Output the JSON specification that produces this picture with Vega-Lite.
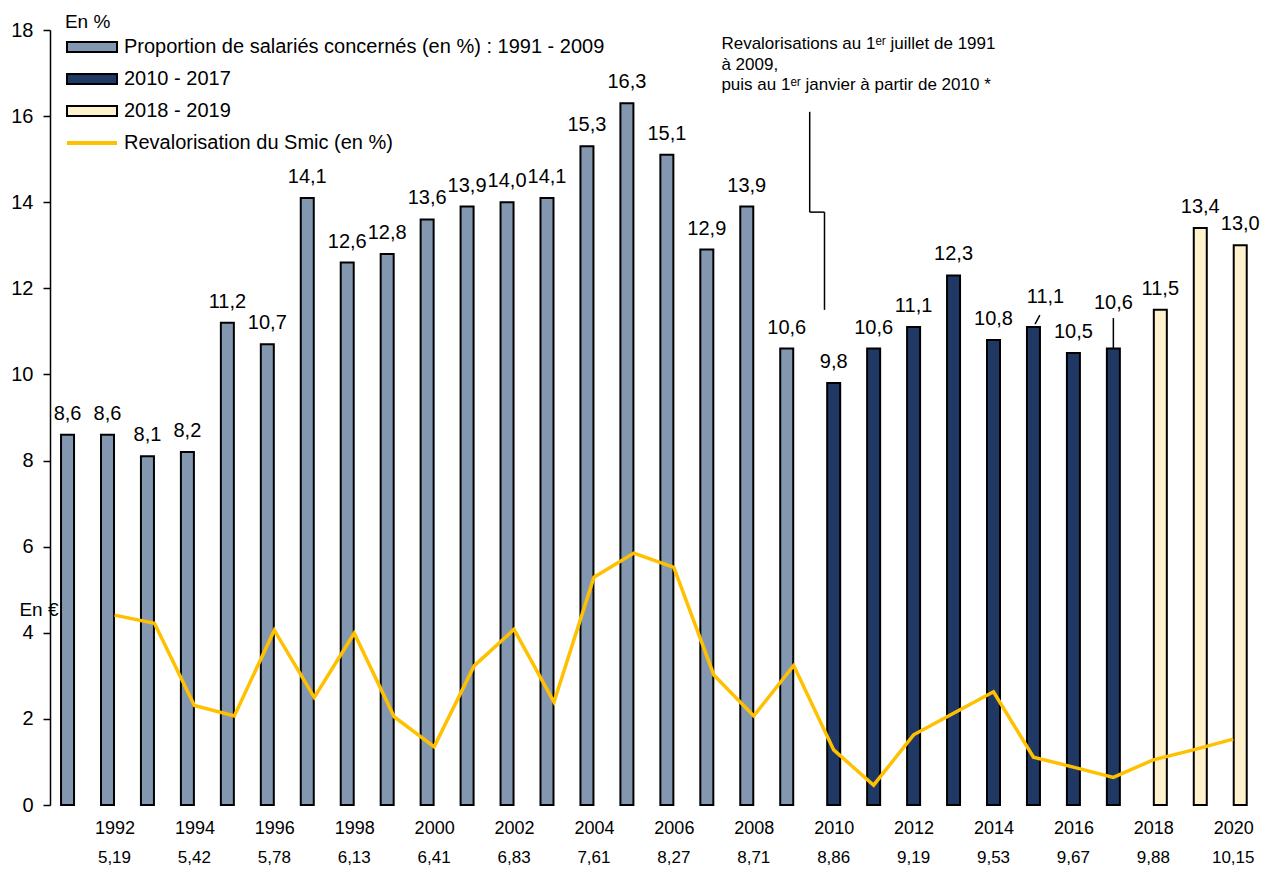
{
  "$schema": "https://vega.github.io/schema/vega-lite/v6.json",
  "width": 1215,
  "height": 775,
  "autosize": {"type": "none"},
  "padding": {"left": 50, "top": 30, "right": 4, "bottom": 65},
  "config": {
    "font": "Liberation Sans",
    "view": {"stroke": null},
    "locale": {"number": {"decimal": ",", "thousands": " ", "grouping": [3], "currency": ["", " €"]}},
    "axisX": {"domain": false, "ticks": false, "grid": false, "labelFontSize": 18, "labelPadding": 14, "labelColor": "black", "labelFont": "Liberation Sans", "title": null},
    "axisY": {"grid": false, "domainColor": "black", "domainWidth": 1.5, "tickColor": "black", "tickWidth": 1.5, "tickSize": 7, "labelFontSize": 20, "labelPadding": 10, "labelColor": "black", "labelFont": "Liberation Sans", "title": null}
  },
  "datasets": {
    "main": [
      {"year": 1991, "pct": 8.6, "smic": null, "period": "Proportion de salariés concernés (en %) : 1991 - 2009"},
      {"year": 1992, "pct": 8.6, "smic": 4.41, "period": "Proportion de salariés concernés (en %) : 1991 - 2009"},
      {"year": 1993, "pct": 8.1, "smic": 4.22, "period": "Proportion de salariés concernés (en %) : 1991 - 2009"},
      {"year": 1994, "pct": 8.2, "smic": 2.31, "period": "Proportion de salariés concernés (en %) : 1991 - 2009"},
      {"year": 1995, "pct": 11.2, "smic": 2.07, "period": "Proportion de salariés concernés (en %) : 1991 - 2009"},
      {"year": 1996, "pct": 10.7, "smic": 4.06, "period": "Proportion de salariés concernés (en %) : 1991 - 2009"},
      {"year": 1997, "pct": 14.1, "smic": 2.50, "period": "Proportion de salariés concernés (en %) : 1991 - 2009"},
      {"year": 1998, "pct": 12.6, "smic": 3.99, "period": "Proportion de salariés concernés (en %) : 1991 - 2009"},
      {"year": 1999, "pct": 12.8, "smic": 2.05, "period": "Proportion de salariés concernés (en %) : 1991 - 2009"},
      {"year": 2000, "pct": 13.6, "smic": 1.35, "period": "Proportion de salariés concernés (en %) : 1991 - 2009"},
      {"year": 2001, "pct": 13.9, "smic": 3.23, "period": "Proportion de salariés concernés (en %) : 1991 - 2009"},
      {"year": 2002, "pct": 14.0, "smic": 4.08, "period": "Proportion de salariés concernés (en %) : 1991 - 2009"},
      {"year": 2003, "pct": 14.1, "smic": 2.39, "period": "Proportion de salariés concernés (en %) : 1991 - 2009"},
      {"year": 2004, "pct": 15.3, "smic": 5.29, "period": "Proportion de salariés concernés (en %) : 1991 - 2009"},
      {"year": 2005, "pct": 16.3, "smic": 5.85, "period": "Proportion de salariés concernés (en %) : 1991 - 2009"},
      {"year": 2006, "pct": 15.1, "smic": 5.52, "period": "Proportion de salariés concernés (en %) : 1991 - 2009"},
      {"year": 2007, "pct": 12.9, "smic": 3.02, "period": "Proportion de salariés concernés (en %) : 1991 - 2009"},
      {"year": 2008, "pct": 13.9, "smic": 2.07, "period": "Proportion de salariés concernés (en %) : 1991 - 2009"},
      {"year": 2009, "pct": 10.6, "smic": 3.24, "period": "Proportion de salariés concernés (en %) : 1991 - 2009"},
      {"year": 2010, "pct": 9.8, "smic": 1.28, "period": "2010 - 2017"},
      {"year": 2011, "pct": 10.6, "smic": 0.46, "period": "2010 - 2017"},
      {"year": 2012, "pct": 11.1, "smic": 1.63, "period": "2010 - 2017"},
      {"year": 2013, "pct": 12.3, "smic": 2.13, "period": "2010 - 2017"},
      {"year": 2014, "pct": 10.8, "smic": 2.63, "period": "2010 - 2017"},
      {"year": 2015, "pct": 11.1, "smic": 1.11, "period": "2010 - 2017"},
      {"year": 2016, "pct": 10.5, "smic": 0.88, "period": "2010 - 2017"},
      {"year": 2017, "pct": 10.6, "smic": 0.64, "period": "2010 - 2017"},
      {"year": 2018, "pct": 11.5, "smic": 1.05, "period": "2018 - 2019"},
      {"year": 2019, "pct": 13.4, "smic": 1.28, "period": "2018 - 2019"},
      {"year": 2020, "pct": 13.0, "smic": 1.53, "period": "2018 - 2019"}
    ],
    "eur": [
      {"year": 1992, "eur": 5.19}, {"year": 1994, "eur": 5.42}, {"year": 1996, "eur": 5.78},
      {"year": 1998, "eur": 6.13}, {"year": 2000, "eur": 6.41}, {"year": 2002, "eur": 6.83},
      {"year": 2004, "eur": 7.61}, {"year": 2006, "eur": 8.27}, {"year": 2008, "eur": 8.71},
      {"year": 2010, "eur": 8.86}, {"year": 2012, "eur": 9.19}, {"year": 2014, "eur": 9.53},
      {"year": 2016, "eur": 9.67}, {"year": 2018, "eur": 9.88}, {"year": 2020, "eur": 10.15}
    ]
  },
  "layer": [
    {
      "data": {"name": "main"},
      "transform": [{"filter": "datum.year <= 2009"}],
      "mark": {"type": "bar", "orient": "vertical", "size": 13, "stroke": "black", "strokeWidth": 2, "xOffset": -7},
      "encoding": {
        "x": {"field": "year", "type": "quantitative", "title": null,
          "scale": {"domain": [1990.511, 2020.67], "nice": false, "zero": false},
          "axis": {"values": [1992, 1994, 1996, 1998, 2000, 2002, 2004, 2006, 2008, 2010, 2012, 2014, 2016, 2018, 2020], "format": "d"}},
        "y": {"field": "pct", "type": "quantitative", "title": null,
          "scale": {"domain": [0, 18], "nice": false},
          "axis": {"values": [0, 2, 4, 6, 8, 10, 12, 14, 16, 18], "format": "d"}},
        "color": {"field": "period", "type": "nominal",
          "scale": {"domain": ["Proportion de salariés concernés (en %) : 1991 - 2009", "2010 - 2017", "2018 - 2019", "Revalorisation du Smic (en %)"], "range": ["#8497B0", "#203864", "#FFF2CC", "#FFC000"]},
          "legend": {"orient": "none", "legendX": 16, "legendY": 7, "title": null, "labelFontSize": 20, "labelColor": "black", "labelFont": "Liberation Sans", "symbolType": "M-1,-0.2H1V0.2H-1Z", "symbolSize": 2500, "symbolStrokeColor": "black", "symbolStrokeWidth": 2, "symbolOpacity": 1, "rowPadding": 12, "padding": 0, "labelLimit": 700,
            "encode": {
              "symbols": {"update": {
                "x": {"value": 26},
                "shape": {"signal": "datum.value === 'Revalorisation du Smic (en %)' ? 'M-1,0H1' : 'M-1,-0.2H1V0.2H-1Z'"},
                "stroke": {"signal": "datum.value === 'Revalorisation du Smic (en %)' ? '#FFC000' : '#000000'"},
                "strokeWidth": {"signal": "datum.value === 'Revalorisation du Smic (en %)' ? 4 : 2"}
              }},
              "labels": {"update": {"x": {"value": 58}}}
            }
          }
        }
      }
    },
    {
      "data": {"name": "main"},
      "transform": [{"filter": "datum.year >= 2010 && datum.year <= 2017"}],
      "mark": {"type": "bar", "orient": "vertical", "size": 13, "stroke": "black", "strokeWidth": 2},
      "encoding": {
        "x": {"field": "year", "type": "quantitative", "title": null},
        "y": {"field": "pct", "type": "quantitative", "title": null},
        "color": {"field": "period", "type": "nominal"}
      }
    },
    {
      "data": {"name": "main"},
      "transform": [{"filter": "datum.year >= 2018"}],
      "mark": {"type": "bar", "orient": "vertical", "size": 13, "stroke": "black", "strokeWidth": 2, "xOffset": 7},
      "encoding": {
        "x": {"field": "year", "type": "quantitative", "title": null},
        "y": {"field": "pct", "type": "quantitative", "title": null},
        "color": {"field": "period", "type": "nominal"}
      }
    },
    {
      "data": {"name": "main"},
      "transform": [{"filter": "isValid(datum.smic)"}],
      "mark": {"type": "line", "color": "#FFC000", "strokeWidth": 3.5},
      "encoding": {
        "x": {"field": "year", "type": "quantitative", "title": null},
        "y": {"field": "smic", "type": "quantitative", "title": null}
      }
    },
    {
      "data": {"name": "main"},
      "transform": [{"filter": "datum.year <= 2009"}],
      "mark": {"type": "text", "baseline": "alphabetic", "dy": -15, "dx": -7, "fontSize": 20, "color": "black"},
      "encoding": {
        "x": {"field": "year", "type": "quantitative", "title": null},
        "y": {"field": "pct", "type": "quantitative", "title": null},
        "text": {"field": "pct", "type": "quantitative", "format": ".1f"}
      }
    },
    {
      "data": {"name": "main"},
      "transform": [{"filter": "datum.year >= 2010 && datum.year !== 2015 && datum.year !== 2017 && datum.year <= 2017"}],
      "mark": {"type": "text", "baseline": "alphabetic", "dy": -15, "fontSize": 20, "color": "black"},
      "encoding": {
        "x": {"field": "year", "type": "quantitative", "title": null},
        "y": {"field": "pct", "type": "quantitative", "title": null},
        "text": {"field": "pct", "type": "quantitative", "format": ".1f"}
      }
    },
    {
      "data": {"name": "main"},
      "transform": [{"filter": "datum.year >= 2018"}],
      "mark": {"type": "text", "baseline": "alphabetic", "dy": -15, "dx": 7, "fontSize": 20, "color": "black"},
      "encoding": {
        "x": {"field": "year", "type": "quantitative", "title": null},
        "y": {"field": "pct", "type": "quantitative", "title": null},
        "text": {"field": "pct", "type": "quantitative", "format": ".1f"}
      }
    },
    {
      "data": {"name": "main"},
      "transform": [{"filter": "datum.year === 2015"}],
      "mark": {"type": "text", "baseline": "alphabetic", "dy": -24, "dx": 12, "fontSize": 20, "color": "black"},
      "encoding": {
        "x": {"field": "year", "type": "quantitative", "title": null},
        "y": {"field": "pct", "type": "quantitative", "title": null},
        "text": {"field": "pct", "type": "quantitative", "format": ".1f"}
      }
    },
    {
      "data": {"name": "main"},
      "transform": [{"filter": "datum.year === 2017"}],
      "mark": {"type": "text", "baseline": "alphabetic", "dy": -40, "fontSize": 20, "color": "black"},
      "encoding": {
        "x": {"field": "year", "type": "quantitative", "title": null},
        "y": {"field": "pct", "type": "quantitative", "title": null},
        "text": {"field": "pct", "type": "quantitative", "format": ".1f"}
      }
    },
    {
      "data": {"name": "eur"},
      "mark": {"type": "text", "baseline": "middle", "dy": 53, "fontSize": 17, "color": "black"},
      "encoding": {
        "x": {"field": "year", "type": "quantitative", "title": null},
        "y": {"datum": 0, "type": "quantitative"},
        "text": {"field": "eur", "type": "quantitative", "format": ".2f"}
      }
    },
    {
      "data": {"values": [{}]},
      "mark": {"type": "rule", "color": "black", "strokeWidth": 1.5},
      "encoding": {"x": {"datum": 2009.40, "type": "quantitative"}, "y": {"datum": 16.10, "type": "quantitative"}, "y2": {"datum": 13.77}}
    },
    {
      "data": {"values": [{}]},
      "mark": {"type": "rule", "color": "black", "strokeWidth": 1.5},
      "encoding": {"x": {"datum": 2009.40, "type": "quantitative"}, "x2": {"datum": 2009.77}, "y": {"datum": 13.77, "type": "quantitative"}}
    },
    {
      "data": {"values": [{}]},
      "mark": {"type": "rule", "color": "black", "strokeWidth": 1.5},
      "encoding": {"x": {"datum": 2009.77, "type": "quantitative"}, "y": {"datum": 13.77, "type": "quantitative"}, "y2": {"datum": 11.50}}
    },
    {
      "data": {"values": [{}]},
      "mark": {"type": "rule", "color": "black", "strokeWidth": 1.5},
      "encoding": {"x": {"datum": 2015.04, "type": "quantitative"}, "x2": {"datum": 2015.16}, "y": {"datum": 11.17, "type": "quantitative"}, "y2": {"datum": 11.38}}
    },
    {
      "data": {"values": [{}]},
      "mark": {"type": "rule", "color": "black", "strokeWidth": 1.5},
      "encoding": {"x": {"datum": 2017.0, "type": "quantitative"}, "y": {"datum": 10.61, "type": "quantitative"}, "y2": {"datum": 11.31}}
    },
    {
      "data": {"values": [{}]},
      "mark": {"type": "text", "align": "left", "baseline": "top", "fontSize": 17, "lineHeight": 20.5, "color": "black",
               "text": ["Revalorisations au 1ᵉʳ juillet de 1991", "à 2009,", "puis au 1ᵉʳ janvier à partir de 2010 *"]},
      "encoding": {"x": {"datum": 2007.19, "type": "quantitative"}, "y": {"datum": 17.85, "type": "quantitative"}}
    },
    {
      "data": {"values": [{}]},
      "mark": {"type": "text", "align": "left", "baseline": "alphabetic", "fontSize": 19, "color": "black", "text": "En %"},
      "encoding": {"x": {"datum": 1990.76, "type": "quantitative"}, "y": {"datum": 18.05, "type": "quantitative"}}
    },
    {
      "data": {"values": [{}]},
      "mark": {"type": "text", "align": "left", "baseline": "middle", "fontSize": 19, "color": "black", "text": "En €"},
      "encoding": {"x": {"datum": 1989.62, "type": "quantitative"}, "y": {"datum": 4.52, "type": "quantitative"}}
    }
  ]
}
